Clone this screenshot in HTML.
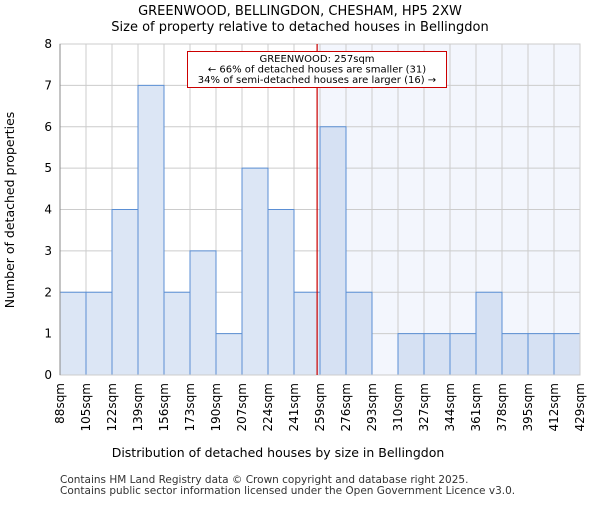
<!DOCTYPE html>
<html><head><meta charset="utf-8"><style>
body{margin:0;background:#fff}
svg{font-family:"DejaVu Sans","Liberation Sans",sans-serif}
</style></head><body>
<svg id="chart" width="600" height="500">
<text x="300" y="15" text-anchor="middle" font-size="13">GREENWOOD, BELLINGDON, CHESHAM, HP5 2XW</text>
<text x="300" y="31" text-anchor="middle" font-size="13">Size of property relative to detached houses in Bellingdon</text>
<g id="plot"></g>
<text x="278" y="457" text-anchor="middle" font-size="12.5">Distribution of detached houses by size in Bellingdon</text>
<text transform="translate(14,210) rotate(-90)" text-anchor="middle" font-size="12.5">Number of detached properties</text>
<text x="60" y="483" font-size="10.5" fill="#333">Contains HM Land Registry data © Crown copyright and database right 2025.</text>
<text x="60" y="494" font-size="10.5" fill="#333">Contains public sector information licensed under the Open Government Licence v3.0.</text>
</svg>
<script>
const edgeLabels=["88sqm","105sqm","122sqm","139sqm","156sqm","173sqm","190sqm","207sqm","224sqm","241sqm","259sqm","276sqm","293sqm","310sqm","327sqm","344sqm","361sqm","378sqm","395sqm","412sqm","429sqm"];
const edgeValues=[88,105,122,139,156,173,190,207,224,241,259,276,293,310,327,344,361,378,395,412,429];
const counts=[2,2,4,7,2,3,1,5,4,2,6,2,0,1,1,1,2,1,1,1];
const yTicks=[0,1,2,3,4,5,6,7,8];
const subjectSize=257;
const L=60,R=580,T=44,B=375,yMax=8;
const n=counts.length,bw=(R-L)/n;
const xi=i=>L+i*bw;
function xs(v){for(let i=0;i<edgeValues.length-1;i++){if(v<=edgeValues[i+1])return xi(i)+(v-edgeValues[i])/(edgeValues[i+1]-edgeValues[i])*bw;}return R;}
const ys=v=>B-v/yMax*(B-T);
const NS="http://www.w3.org/2000/svg",g=document.getElementById('plot');
function mk(t,a){const e=document.createElementNS(NS,t);for(const k in a)e.setAttribute(k,a[k]);g.appendChild(e);return e;}
const sx=xs(subjectSize);
let e=mk('rect',{x:sx,y:T,width:R-sx,height:B-T,fill:'#f3f6fd'});


yTicks.forEach(t=>{let l=mk('line',{x1:L,x2:R,y1:ys(t),y2:ys(t),stroke:'#ccc'});


let tx=mk('text',{x:L-8,y:ys(t)+4,'text-anchor':'end','font-size':12});tx.textContent=t;

});
edgeLabels.forEach((s,i)=>{let l=mk('line',{x1:xi(i),x2:xi(i),y1:T,y2:B,stroke:'#ccc'});


let tx=mk('text',{transform:`translate(${xi(i)+4},${B+8}) rotate(-90)`,'text-anchor':'end','font-size':12});tx.textContent=s;

});
counts.forEach((c,i)=>{if(!c)return;const r=mk('rect',{x:xi(i),y:ys(c),width:bw,height:B-ys(c),fill:xi(i)>=sx?'#d6e1f3':'#dce6f5',stroke:'#5b8fd4','stroke-width':1});

});
e=mk('rect',{x:L,y:T,width:R-L,height:B-T,fill:'none',stroke:'#ccc'});


e=mk('line',{x1:L,x2:L,y1:T,y2:B,stroke:'#888'});


e=mk('line',{x1:sx,x2:sx,y1:T,y2:B,stroke:'#cc0000','stroke-width':1.2});


e=mk('rect',{x:187.5,y:51.5,width:259,height:36,fill:'#fff',stroke:'#cc0000'});


["GREENWOOD: 257sqm","← 66% of detached houses are smaller (31)","34% of semi-detached houses are larger (16) →"].forEach((s,i)=>{let t=mk('text',{x:317,y:62+i*10.5,'text-anchor':'middle','font-size':10});t.textContent=s;

});
</script>
</body></html>
